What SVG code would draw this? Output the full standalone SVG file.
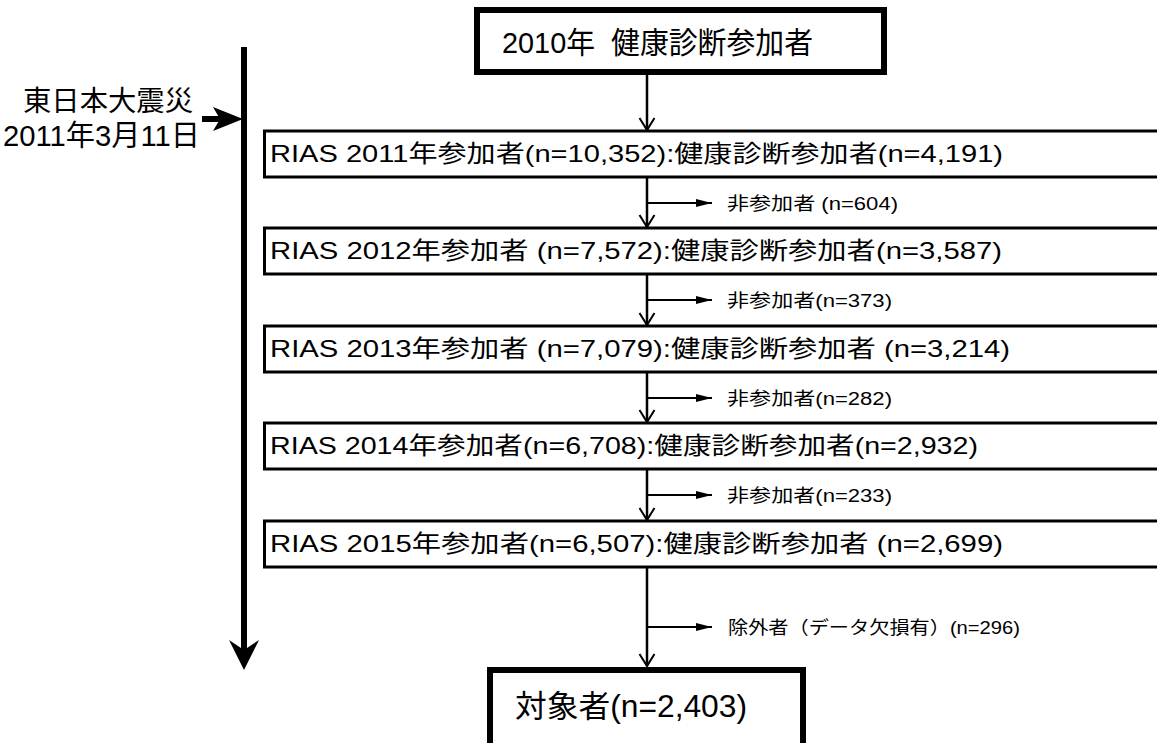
<svg xmlns="http://www.w3.org/2000/svg" width="1157" height="743" viewBox="0 0 1157 743">
<style>
text{font-family:"Liberation Sans","Noto Sans CJK JP",sans-serif;fill:#000;font-weight:normal}
.thick{fill:#fff;stroke:#000;stroke-width:6}
.box{fill:#fff;stroke:#000;stroke-width:3}
.vc{stroke:#000;stroke-width:2.5;fill:none}
.sc{stroke:#000;stroke-width:2;fill:none}
.big{stroke:#000;stroke-width:6;fill:none}
.t24{font-size:24px}
.t18{font-size:18px}
</style>
<defs>
<marker id="chev" markerUnits="userSpaceOnUse" markerWidth="16" markerHeight="18" viewBox="-1 -1 16 18" refX="12" refY="7.5" orient="auto" overflow="visible">
<path d="M0,0 L12,7.5 L0,15" fill="none" stroke="#000" stroke-width="2"/>
</marker>
<marker id="tri" markerUnits="userSpaceOnUse" markerWidth="16" markerHeight="9" viewBox="0 0 16 9" refX="16" refY="4" orient="auto" overflow="visible">
<path d="M0,0 L16,4 L0,8 z" fill="#000"/>
</marker>
<marker id="bigv" markerUnits="userSpaceOnUse" markerWidth="30" markerHeight="30" viewBox="0 0 30 30" refX="10" refY="15" orient="auto" overflow="visible">
<path d="M0,0 L30,15 L0,30 L10,15 z" fill="#000"/>
</marker>
<marker id="bigh" markerUnits="userSpaceOnUse" markerWidth="30" markerHeight="24" viewBox="0 0 30 24" refX="7" refY="12" orient="auto" overflow="visible">
<path d="M0,0 L30,12 L0,24 L7,12 z" fill="#000"/>
</marker>
</defs>

<g id="connectors">
<line class="big" x1="244" y1="47" x2="244" y2="650" marker-end="url(#bigv)"/>
<line class="big" x1="202" y1="119" x2="220" y2="119" marker-end="url(#bigh)"/>
<line class="vc" x1="647" y1="75" x2="647" y2="130" marker-end="url(#chev)"/>
<line class="vc" x1="647" y1="177" x2="647" y2="227" marker-end="url(#chev)"/>
<line class="vc" x1="647" y1="274" x2="647" y2="325" marker-end="url(#chev)"/>
<line class="vc" x1="647" y1="372" x2="647" y2="422" marker-end="url(#chev)"/>
<line class="vc" x1="647" y1="469" x2="647" y2="520" marker-end="url(#chev)"/>
<line class="vc" x1="647" y1="567" x2="647" y2="666" marker-end="url(#chev)"/>
<line class="sc" x1="647" y1="203" x2="712" y2="203" marker-end="url(#tri)"/>
<line class="sc" x1="647" y1="300" x2="712" y2="300" marker-end="url(#tri)"/>
<line class="sc" x1="647" y1="398" x2="712" y2="398" marker-end="url(#tri)"/>
<line class="sc" x1="647" y1="495" x2="712" y2="495" marker-end="url(#tri)"/>
<line class="sc" x1="647" y1="627" x2="712" y2="627" marker-end="url(#tri)"/>
</g>

<g id="event-label">
<text x="23" y="111" font-size="28" textLength="170" lengthAdjust="spacingAndGlyphs">東日本大震災</text>
<text x="3" y="146" font-size="29" textLength="197" lengthAdjust="spacingAndGlyphs">2011年3月11日</text>
</g>

<g id="node-2010">
<rect class="thick" x="477" y="10" width="407" height="62"/>
<text x="502" y="53" font-size="30" textLength="311" lengthAdjust="spacingAndGlyphs" xml:space="preserve">2010年  健康診断参加者</text>
</g>

<g id="node-2011">
<rect class="box" x="264.5" y="131" width="1000" height="46"/>
<text class="t24" x="270" y="162" textLength="733" lengthAdjust="spacingAndGlyphs">RIAS 2011年参加者(n=10,352):健康診断参加者(n=4,191)</text>
</g>
<g id="node-2012">
<rect class="box" x="264.5" y="228" width="1000" height="46"/>
<text class="t24" x="270" y="259" textLength="732" lengthAdjust="spacingAndGlyphs">RIAS 2012年参加者 (n=7,572):健康診断参加者(n=3,587)</text>
</g>
<g id="node-2013">
<rect class="box" x="264.5" y="326" width="1000" height="46"/>
<text class="t24" x="270" y="357" textLength="740" lengthAdjust="spacingAndGlyphs">RIAS 2013年参加者 (n=7,079):健康診断参加者 (n=3,214)</text>
</g>
<g id="node-2014">
<rect class="box" x="264.5" y="423" width="1000" height="46"/>
<text class="t24" x="270" y="454" textLength="708" lengthAdjust="spacingAndGlyphs">RIAS 2014年参加者(n=6,708):健康診断参加者(n=2,932)</text>
</g>
<g id="node-2015">
<rect class="box" x="264.5" y="521" width="1000" height="46"/>
<text class="t24" x="270" y="552" textLength="733" lengthAdjust="spacingAndGlyphs">RIAS 2015年参加者(n=6,507):健康診断参加者 (n=2,699)</text>
</g>

<g id="excluded-labels">
<text class="t18" x="727" y="210" textLength="171" lengthAdjust="spacingAndGlyphs">非参加者 (n=604)</text>
<text class="t18" x="727" y="307" textLength="165" lengthAdjust="spacingAndGlyphs">非参加者(n=373)</text>
<text class="t18" x="727" y="405" textLength="165" lengthAdjust="spacingAndGlyphs">非参加者(n=282)</text>
<text class="t18" x="727" y="502" textLength="165" lengthAdjust="spacingAndGlyphs">非参加者(n=233)</text>
<text class="t18" x="728" y="634" textLength="292" lengthAdjust="spacingAndGlyphs">除外者（データ欠損有）(n=296)</text>
</g>

<g id="node-final">
<rect class="thick" x="490" y="670" width="313" height="90"/>
<text x="515" y="717" font-size="31" textLength="232" lengthAdjust="spacingAndGlyphs">対象者(n=2,403)</text>
</g>
</svg>
